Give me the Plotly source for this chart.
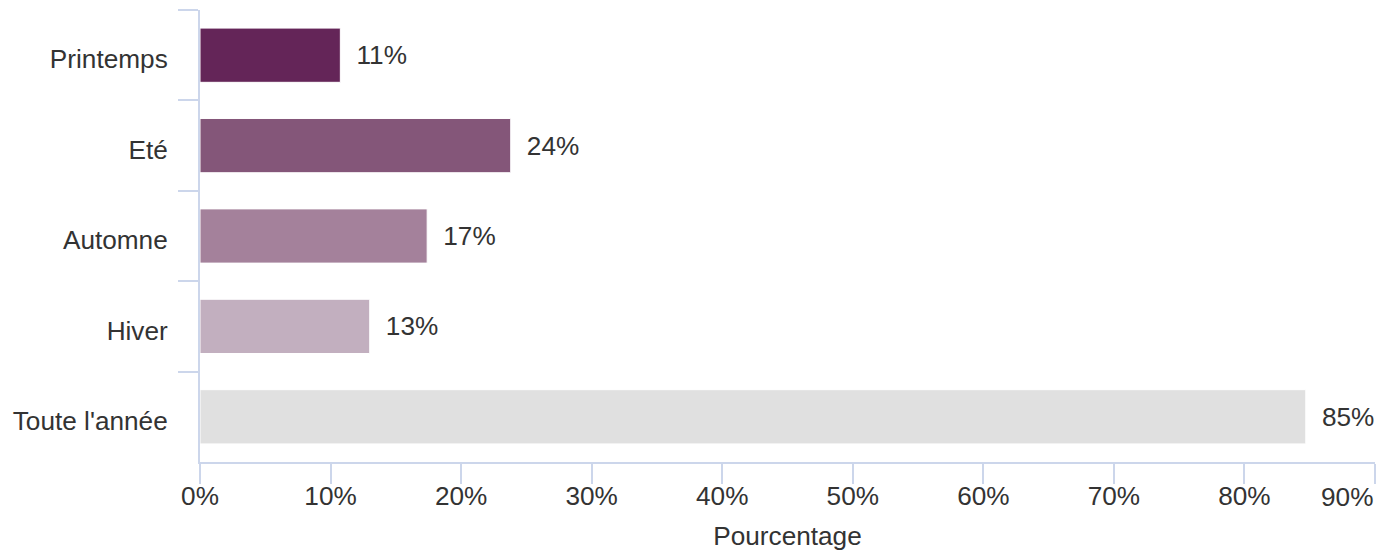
import plotly.graph_objects as go

# Seasons and share of respondents (%)
categories = ["Printemps", "Eté", "Automne", "Hiver", "Toute l'année"]
values = [10.75, 23.8, 17.4, 13.0, 84.7]
bar_colors = ["#642558", "#845679", "#a4819b", "#c2afbf", "#e0e0e0"]

tick_values = [0, 10, 20, 30, 40, 50, 60, 70, 80, 90]
tick_labels = ["0%", "10%", "20%", "30%", "40%", "50%", "60%", "70%", "80%", "90%"]

FONT = "Liberation Sans, Arial, sans-serif"
FS = 26.2
AXIS_COLOR = "#ccd6eb"
TEXT_COLOR = "#333333"

# the last tick label is drawn right-aligned to its tick so it stays on the page
axis_labels = tick_labels[:-1] + [""]

fig = go.Figure(
    go.Bar(
        x=values,
        y=categories,
        orientation="h",
        width=0.6,
        marker=dict(color=bar_colors, line=dict(color="white", width=1)),
        texttemplate="\u2002%{x:.0f}%",
        textposition="outside",
        textfont=dict(family=FONT, size=FS, color=TEXT_COLOR),
        cliponaxis=False,
        hoverinfo="skip",
    )
)

fig.add_annotation(
    x=tick_values[-1],
    xref="x",
    y=0,
    yref="paper",
    text=tick_labels[-1],
    showarrow=False,
    xanchor="right",
    yanchor="middle",
    yshift=-35,
    font=dict(family=FONT, size=FS, color=TEXT_COLOR),
)

fig.update_layout(
    width=1377,
    height=551,
    margin=dict(l=200, r=2, t=10, b=89),
    paper_bgcolor="white",
    plot_bgcolor="white",
    showlegend=False,
    font=dict(family=FONT, size=FS, color=TEXT_COLOR),
    xaxis=dict(
        range=[0, 90],
        tickvals=tick_values,
        ticktext=axis_labels,
        showgrid=False,
        zeroline=False,
        showline=True,
        linecolor=AXIS_COLOR,
        linewidth=2,
        ticks="outside",
        ticklen=20,
        tickwidth=2,
        tickcolor=AXIS_COLOR,
        tickfont=dict(family=FONT, size=FS, color=TEXT_COLOR),
        ticklabelstandoff=-10,
        automargin=False,
        title=dict(text="Pourcentage", font=dict(family=FONT, size=FS, color=TEXT_COLOR), standoff=16),
    ),
    yaxis=dict(
        autorange="reversed",
        showgrid=False,
        zeroline=False,
        showline=True,
        linecolor=AXIS_COLOR,
        linewidth=2,
        ticks="outside",
        tickson="boundaries",
        ticklen=20,
        tickwidth=2,
        tickcolor=AXIS_COLOR,
        tickfont=dict(family=FONT, size=FS, color=TEXT_COLOR),
        ticklabelstandoff=25,
        ticklabelshift=-4,
        automargin=False,
    ),
)

fig.write_html("out.html")
